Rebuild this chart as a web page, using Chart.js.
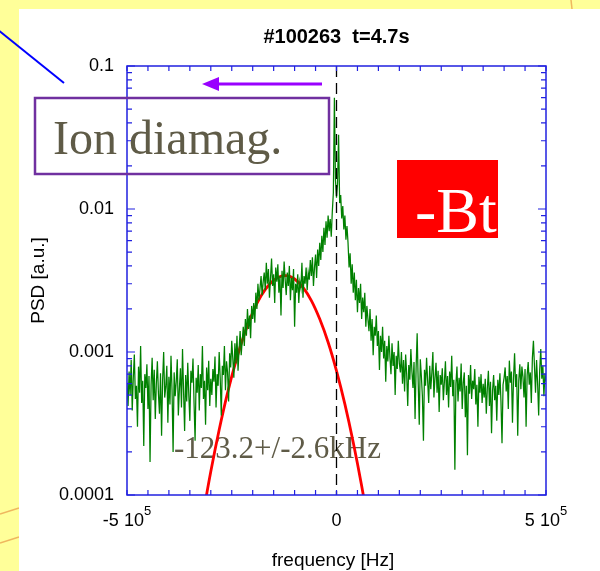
<!DOCTYPE html>
<html><head><meta charset="utf-8">
<script src="https://cdn.jsdelivr.net/npm/chart.js@4.4.1/dist/chart.umd.min.js"></script>
<style>html,body{margin:0;padding:0;background:#ffff99;}canvas{display:block;}</style>
</head><body>
<canvas id="c" width="600" height="571"></canvas>
<script>
// ---- data ----
const TITLE = '#100263  t=4.7s';
const X_TITLE = 'frequency [Hz]';
const Y_TITLE = 'PSD [a.u.]';
const X_MIN = -5e5, X_MAX = 5e5, X_TICK_STEP = 5e4;
const X_LABEL_VALUES = [-5e5, 0, 5e5];
const X_LABEL_MAIN = ['-5 10', '0', '5 10'];
const X_LABEL_SUP = ['5', '', '5'];
const Y_TICKS = [1e-4, 1e-3, 1e-2, 1e-1];
const Y_TICK_LABELS = ['0.0001', '0.001', '0.01', '0.1'];
const ION_LABEL = 'Ion diamag.';
const BT_LABEL = '-Bt';
const FIT_LABEL = '-123.2+/-2.6kHz';

// measured spectrum: frequency grid start and spacing
const GREEN_F0 = -5e5, GREEN_DF = 2500;
const GREEN_PSD = [
6.1e-4,4.2e-4,7.3e-4,5.0e-4,8.8e-4,3.9e-4,6.6e-4,9.6e-4,4.7e-4,5.8e-4,
3.0e-4,7.9e-4,5.2e-4,1.1e-3,4.4e-4,6.3e-4,2.2e-4,7.0e-4,5.6e-4,8.2e-4,
4.0e-4,6.8e-4,1.7e-4,5.9e-4,9.1e-4,4.6e-4,7.5e-4,3.4e-4,6.0e-4,8.6e-4,
5.1e-4,3.7e-4,7.1e-4,2.6e-4,6.4e-4,1.0e-3,4.8e-4,5.7e-4,8.0e-4,3.2e-4,
6.7e-4,4.3e-4,9.4e-4,5.4e-4,2.0e-4,7.2e-4,4.9e-4,6.2e-4,8.9e-4,3.6e-4,
5.5e-4,7.7e-4,4.1e-4,1.05e-3,5.3e-4,2.8e-4,6.9e-4,4.5e-4,8.4e-4,5.0e-4,
3.3e-4,7.4e-4,6.1e-4,9.0e-4,4.4e-4,2.4e-4,6.6e-4,5.2e-4,8.1e-4,3.9e-4,
7.0e-4,5.6e-4,1.1e-3,4.7e-4,6.3e-4,3.1e-4,7.8e-4,5.4e-4,8.7e-4,4.2e-4,
6.5e-4,
5.0e-4,7.6e-4,6.2e-4,9.3e-4,4.1e-4,7.0e-4,5.8e-4,1.0e-3,6.5e-4,3.6e-4,
8.0e-4,6.9e-4,1.1e-3,5.4e-4,8.6e-4,7.2e-4,4.5e-4,9.8e-4,7.8e-4,1.2e-3,
9.0e-4,6.6e-4,1.15e-3,8.3e-4,1.3e-3,7.4e-4,1.05e-3,1.4e-3,9.5e-4,1.2e-3,
1.5e-3,1.1e-3,1.7e-3,1.3e-3,2.0e-3,1.45e-3,1.8e-3,1.25e-3,2.1e-3,1.7e-3,
2.2e-3,1.6e-3,2.6e-3,2.0e-3,3.0e-3,2.3e-3,2.8e-3,3.4e-3,2.5e-3,3.1e-3,
3.6e-3,2.7e-3,4.2e-3,3.0e-3,3.8e-3,2.4e-3,3.3e-3,4.5e-3,2.9e-3,3.5e-3,
2.2e-3,3.9e-3,3.1e-3,4.1e-3,2.6e-3,3.4e-3,1.8e-3,3.7e-3,2.8e-3,4.3e-3,
3.2e-3,2.5e-3,3.6e-3,2.9e-3,4.0e-3,2.3e-3,3.3e-3,2.7e-3,3.8e-3,1.5e-3,
3.0e-3,2.6e-3,3.5e-3,2.2e-3,3.1e-3,2.8e-3,4.2e-3,2.4e-3,3.4e-3,3.0e-3,
3.9e-3,2.7e-3,3.6e-3,3.2e-3,4.4e-3,
3.4e-3,4.6e-3,2.9e-3,3.9e-3,4.8e-3,3.3e-3,5.2e-3,4.0e-3,5.8e-3,4.4e-3,
6.5e-3,5.0e-3,7.4e-3,5.6e-3,8.2e-3,6.3e-3,9.0e-3,7.0e-3,8.5e-3,
6.4e-3,9.6e-3,1.3e-2,6.0e-2,1.6e-2,1.2e-2,1.5e-2,3.3e-2,1.1e-2,1.25e-2,
8.6e-3,1.05e-2,7.2e-3,9.0e-3,6.1e-3,7.6e-3,
5.8e-3,3.9e-3,4.9e-3,3.0e-3,4.1e-3,2.6e-3,3.6e-3,2.3e-3,3.2e-3,1.9e-3,
2.8e-3,2.2e-3,3.0e-3,1.7e-3,2.4e-3,1.9e-3,2.6e-3,1.5e-3,2.1e-3,1.7e-3,
1.4e-3,2.0e-3,1.2e-3,1.7e-3,9.5e-4,1.5e-3,1.3e-3,1.8e-3,1.1e-3,1.4e-3,
7.5e-4,1.3e-3,1.0e-3,1.5e-3,9.0e-4,1.2e-3,6.2e-4,1.1e-3,8.6e-4,1.3e-3,
9.2e-4,7.0e-4,1.15e-3,8.0e-4,1.0e-3,5.0e-4,9.4e-4,7.6e-4,1.2e-3,8.3e-4,
7.2e-4,1.0e-3,6.0e-4,8.8e-4,5.3e-4,9.6e-4,7.0e-4,4.2e-4,8.1e-4,6.4e-4,
1.05e-3,7.3e-4,5.6e-4,8.5e-4,3.4e-4,7.8e-4,1.35e-3,6.1e-4,3.1e-4,8.9e-4,
6.8e-4,4.9e-4,2.4e-4,7.5e-4,5.8e-4,9.1e-4,6.3e-4,4.4e-4,8.0e-4,5.5e-4,
7.1e-4,1.0e-3,4.8e-4,6.6e-4,8.4e-4,5.2e-4,7.4e-4,3.8e-4,6.9e-4,5.9e-4,
7.7e-4,4.6e-4,6.2e-4,8.6e-4,5.0e-4,6.8e-4,4.1e-4,7.3e-4,5.7e-4,9.4e-4,
4.9e-4,6.4e-4,1.5e-4,6.0e-4,7.9e-4,4.5e-4,6.6e-4,5.3e-4,8.3e-4,4.0e-4,
6.1e-4,7.2e-4,3.5e-4,5.8e-4,1.9e-4,6.9e-4,5.1e-4,8.1e-4,4.7e-4,6.3e-4,
5.5e-4,7.6e-4,4.3e-4,5.9e-4,3.0e-4,6.7e-4,5.2e-4,7.0e-4,4.4e-4,6.0e-4,
4.8e-4,6.5e-4,3.7e-4,5.6e-4,7.4e-4,4.2e-4,6.2e-4,2.7e-4,5.4e-4,6.9e-4,
4.6e-4,5.8e-4,3.3e-4,6.4e-4,5.0e-4,7.1e-4,4.5e-4,2.3e-4,5.9e-4,6.6e-4,
7.8e-4,5.3e-4,6.8e-4,4.0e-4,8.7e-4,6.1e-4,7.3e-4,3.2e-4,6.6e-4,9.8e-4,
5.7e-4,7.0e-4,2.6e-4,6.3e-4,8.2e-4,5.5e-4,7.9e-4,6.7e-4,4.8e-4,7.6e-4,
3.0e-4,6.9e-4,8.5e-4,5.9e-4,7.2e-4,4.4e-4,9.1e-4,1.2e-3,7.9e-4,5.2e-4,
8.8e-4,6.0e-4,3.6e-4,7.5e-4,1.05e-3,6.5e-4,8.0e-4,4.9e-4,7.1e-4,6.2e-4
];

// fitted curve
const RED_FREQ = [-3.2e5,-3.0e5,-2.8e5,-2.6e5,-2.4e5,-2.2e5,-2.0e5,-1.8e5,-1.6e5,-1.4e5,-1.2e5,-1.0e5,-8e4,-6e4,-4e4,-2e4,0,2e4,4e4,6e4,8e4];
const RED_PSD  = [6.9e-5,1.46e-4,2.86e-4,5.18e-4,8.63e-4,1.33e-3,1.89e-3,2.47e-3,2.98e-3,3.32e-3,3.42e-3,3.24e-3,2.83e-3,2.29e-3,1.70e-3,1.17e-3,7.39e-4,4.32e-4,2.33e-4,1.16e-4,5.3e-5];

// ---- build ----
const greenPts = GREEN_PSD.map((v, i) => ({x: GREEN_F0 + i * GREEN_DF, y: v}));
const redPts = RED_FREQ.map((f, i) => ({x: f, y: RED_PSD[i]}));

const SANS = '"Liberation Sans", Arial, sans-serif';
const SERIF = '"Liberation Serif", "Times New Roman", serif';
const AXIS_BLUE = '#2020e0';

const deco = {
  id: 'deco',
  beforeDraw(chart) {
    const ctx = chart.ctx;
    ctx.save();
    ctx.fillStyle = '#ffff99';
    ctx.fillRect(0, 0, 600, 571);
    ctx.strokeStyle = 'rgba(235,165,80,0.8)';
    ctx.lineWidth = 1.5;
    ctx.beginPath(); ctx.moveTo(0, 514); ctx.lineTo(19, 508); ctx.stroke();
    ctx.beginPath(); ctx.moveTo(0, 543); ctx.lineTo(19, 537); ctx.stroke();
    ctx.beginPath(); ctx.moveTo(571, 0); ctx.lineTo(572, 9); ctx.stroke();
    ctx.fillStyle = '#ffffff';
    ctx.fillRect(19, 9, 581, 562);
    ctx.restore();
  },
  beforeDatasetsDraw(chart) {
    const ctx = chart.ctx;
    ctx.save();
    ctx.fillStyle = '#5f5b47';
    ctx.font = '31px ' + SERIF;
    ctx.textAlign = 'left';
    ctx.textBaseline = 'alphabetic';
    ctx.fillText(FIT_LABEL, 174, 458);
    ctx.restore();
  },
  afterDatasetsDraw(chart) {
    const ctx = chart.ctx;
    const a = chart.chartArea;
    const xs = chart.scales.x, ys = chart.scales.y;
    ctx.save();
    // dashed zero line
    const x0 = xs.getPixelForValue(0);
    ctx.strokeStyle = '#000';
    ctx.lineWidth = 1.3;
    ctx.setLineDash([11, 6]);
    ctx.beginPath(); ctx.moveTo(x0, a.top); ctx.lineTo(x0, a.bottom); ctx.stroke();
    ctx.setLineDash([]);
    // frame
    ctx.strokeStyle = AXIS_BLUE;
    ctx.lineWidth = 1.5;
    ctx.strokeRect(a.left, a.top, a.right - a.left, a.bottom - a.top);
    ctx.lineWidth = 1.2;
    ctx.beginPath();
    for (let v = X_MIN; v <= X_MAX + 1; v += X_TICK_STEP) {
      const px = xs.getPixelForValue(v);
      ctx.moveTo(px, a.bottom); ctx.lineTo(px, a.bottom - 5);
      ctx.moveTo(px, a.top); ctx.lineTo(px, a.top + 5);
    }
    for (let d = -4; d <= -1; d++) {
      for (let m = 1; m <= 9; m++) {
        const v = m * Math.pow(10, d);
        if (v > 0.1000001) break;
        const py = ys.getPixelForValue(v);
        const L = m === 1 ? 8 : 5;
        ctx.moveTo(a.left, py); ctx.lineTo(a.left + L, py);
        ctx.moveTo(a.right, py); ctx.lineTo(a.right - L, py);
      }
    }
    ctx.stroke();
    // x tick labels
    ctx.fillStyle = '#000';
    ctx.textBaseline = 'alphabetic';
    ctx.textAlign = 'left';
    X_LABEL_VALUES.forEach((v, i) => {
      const px = xs.getPixelForValue(v);
      ctx.font = '18px ' + SANS;
      const w1 = ctx.measureText(X_LABEL_MAIN[i]).width;
      ctx.font = '13px ' + SANS;
      const w2 = X_LABEL_SUP[i] ? ctx.measureText(X_LABEL_SUP[i]).width : 0;
      const start = px - (w1 + w2) / 2;
      ctx.font = '18px ' + SANS;
      ctx.fillText(X_LABEL_MAIN[i], start, 526);
      if (X_LABEL_SUP[i]) {
        ctx.font = '13px ' + SANS;
        ctx.fillText(X_LABEL_SUP[i], start + w1, 515);
      }
    });
    // titles
    ctx.textAlign = 'center';
    ctx.font = 'bold 20px ' + SANS;
    ctx.fillText(TITLE, (a.left + a.right) / 2, 43);
    ctx.font = '19px ' + SANS;
    ctx.fillText(X_TITLE, 333, 566);
    ctx.save();
    ctx.translate(44, (a.top + a.bottom) / 2);
    ctx.rotate(-Math.PI / 2);
    ctx.fillText(Y_TITLE, 0, 0);
    ctx.restore();
    // blue pointer line
    ctx.strokeStyle = '#0000ff';
    ctx.lineWidth = 2;
    ctx.beginPath(); ctx.moveTo(-8, 25); ctx.lineTo(64, 83); ctx.stroke();
    // violet arrow
    ctx.strokeStyle = '#9900ff';
    ctx.fillStyle = '#9900ff';
    ctx.lineWidth = 3;
    ctx.beginPath(); ctx.moveTo(322, 84); ctx.lineTo(214, 84); ctx.stroke();
    ctx.beginPath(); ctx.moveTo(202, 84); ctx.lineTo(219, 77); ctx.lineTo(219, 91); ctx.closePath(); ctx.fill();
    // Ion diamag box
    ctx.strokeStyle = '#7030a0';
    ctx.lineWidth = 2.5;
    ctx.strokeRect(35, 98, 294, 76);
    ctx.fillStyle = '#5f5b47';
    ctx.font = '48px ' + SERIF;
    ctx.textAlign = 'left';
    ctx.fillText(ION_LABEL, 53, 154);
    // -Bt box
    ctx.fillStyle = '#ff0000';
    ctx.fillRect(397, 160, 101, 78);
    ctx.save();
    ctx.beginPath(); ctx.rect(397, 160, 101, 78); ctx.clip();
    ctx.fillStyle = '#ffffff';
    ctx.font = '64px ' + SERIF;
    ctx.fillText(BT_LABEL, 415, 232);
    ctx.restore();
    ctx.restore();
  }
};

new Chart(document.getElementById('c'), {
  type: 'line',
  data: {
    datasets: [
      { data: greenPts, borderColor: 'rgb(0,128,0)', borderWidth: 1.25, pointRadius: 0, tension: 0, fill: false },
      { data: redPts, borderColor: '#ff0000', borderWidth: 2.8, pointRadius: 0, tension: 0.4, fill: false }
    ]
  },
  options: {
    responsive: false,
    animation: false,
    devicePixelRatio: 1,
    layout: { padding: { top: 66, right: 54, left: 0, bottom: 0 } },
    plugins: { legend: { display: false }, tooltip: { enabled: false }, title: { display: false } },
    scales: {
      x: {
        type: 'linear', min: X_MIN, max: X_MAX,
        grid: { display: false, drawTicks: false }, border: { display: false },
        ticks: { display: false },
        afterFit: s => { s.height = 76; }
      },
      y: {
        type: 'logarithmic', min: 1e-4, max: 0.1,
        grid: { display: false, drawTicks: false }, border: { display: false },
        afterBuildTicks: s => { s.ticks = Y_TICKS.map(v => ({ value: v })); },
        ticks: {
          color: '#000', padding: 13, font: { family: SANS, size: 18 },
          autoSkip: false,
          callback: v => { const k = Y_TICKS.indexOf(v); return k >= 0 ? Y_TICK_LABELS[k] : ''; }
        },
        afterFit: s => { s.width = 127; }
      }
    }
  },
  plugins: [deco]
});
</script>
</body></html>
